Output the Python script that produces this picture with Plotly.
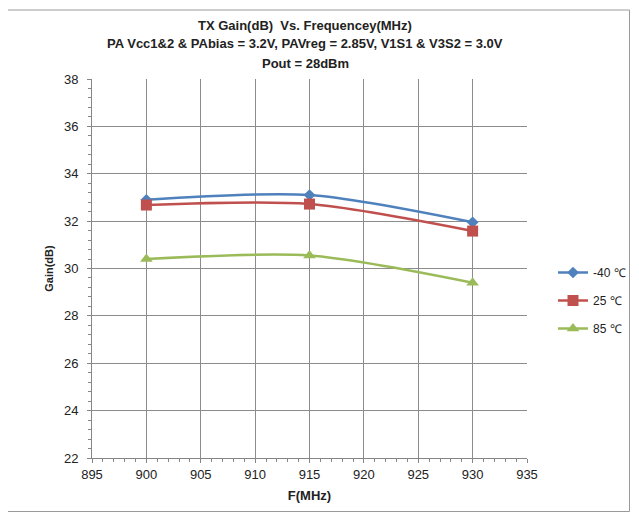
import plotly.graph_objects as go

freq = [900, 915, 930]
gain_m40 = [32.9, 33.1, 31.95]
gain_25 = [32.68, 32.72, 31.58]
gain_85 = [30.4, 30.55, 29.4]
series_names = ["-40 ℃", "25 ℃", "85 ℃"]
colors = ["#4F81BD", "#C0504D", "#9BBB59"]
symbols = ["diamond", "square", "triangle-up"]
sizes = [9, 11, 11]

OFF = 8  # page body margin
W, H = 639 - 2 * OFF, 521 - 2 * OFF
L, R, T, B = 92 - OFF, 527 - OFF, 79 - OFF, 458 - OFF
pw, ph = R - L, B - T

def px(xp):
    return (xp - OFF - L) / pw

def py(yp):
    return 1 - (yp - OFF - T) / ph

fig = go.Figure()
for i, (name, ys, c, s, sz) in enumerate(zip(series_names, [gain_m40, gain_25, gain_85], colors, symbols, sizes)):
    fig.add_trace(go.Scatter(
        x=freq, y=ys, name=name, mode="lines+markers", legendgroup=f"g{i}",
        line=dict(color=c, width=2.5, shape="spline", smoothing=0.8),
        marker=dict(symbol=s, size=sz, color=c),
    ))

font_family = "Liberation Sans, Arial, sans-serif"
axis_common = dict(showline=True, linecolor="#868686", linewidth=1,
                   gridcolor="#8C8C8C", gridwidth=1, zeroline=False,
                   ticks="outside", ticklen=4, tickcolor="#868686",
                   tickfont=dict(family=font_family, size=13, color="#222222"))
fig.update_xaxes(range=[895, 935], dtick=5, tick0=895,
                 minor=dict(dtick=1, ticks="outside", ticklen=3, tickcolor="#868686", showgrid=False),
                 title=dict(text="<b>F(MHz)</b>", font=dict(family=font_family, size=13, color="#222222"), standoff=10),
                 **axis_common)
fig.update_yaxes(range=[22, 38], dtick=2, tick0=22, ticklabelstandoff=6,
                 minor=dict(dtick=0.4, ticks="outside", ticklen=3, tickcolor="#868686", showgrid=False),
                 title=dict(text="<b>Gain(dB)</b>", font=dict(family=font_family, size=11, color="#222222"), standoff=8),
                 **axis_common)

title_lines = [
    ("<b>TX Gain(dB)  Vs. Frequencey(MHz)</b>", 26),
    ("<b>PA Vcc1&amp;2 &amp; PAbias = 3.2V, PAVreg = 2.85V, V1S1 &amp; V3S2 = 3.0V</b>", 44),
    ("<b>Pout = 28dBm</b>", 63),
]
annotations = []
for txt, yy in title_lines:
    annotations.append(dict(text=txt, x=px(305), y=py(yy), xref="paper", yref="paper",
                            showarrow=False, xanchor="center", yanchor="middle",
                            font=dict(family=font_family, size=13, color="#222222")))

fig.update_layout(
    width=W, height=H,
    margin=dict(l=L, r=W - R, t=T, b=H - B, autoexpand=False),
    paper_bgcolor="white", plot_bgcolor="white",
    showlegend=True,
    legend=dict(x=px(553), y=py(258), xanchor="left", yanchor="top",
                font=dict(family=font_family, size=12, color="#222222"),
                itemwidth=30, tracegroupgap=9, bgcolor="rgba(0,0,0,0)"),
    annotations=annotations,
    shapes=[dict(type="rect", xref="paper", yref="paper",
                 x0=px(6), x1=px(629.5), y0=py(511.5), y1=py(10),
                 line=dict(color="#9A9A9A", width=1), layer="below")],
)

fig.write_html("out.html")
